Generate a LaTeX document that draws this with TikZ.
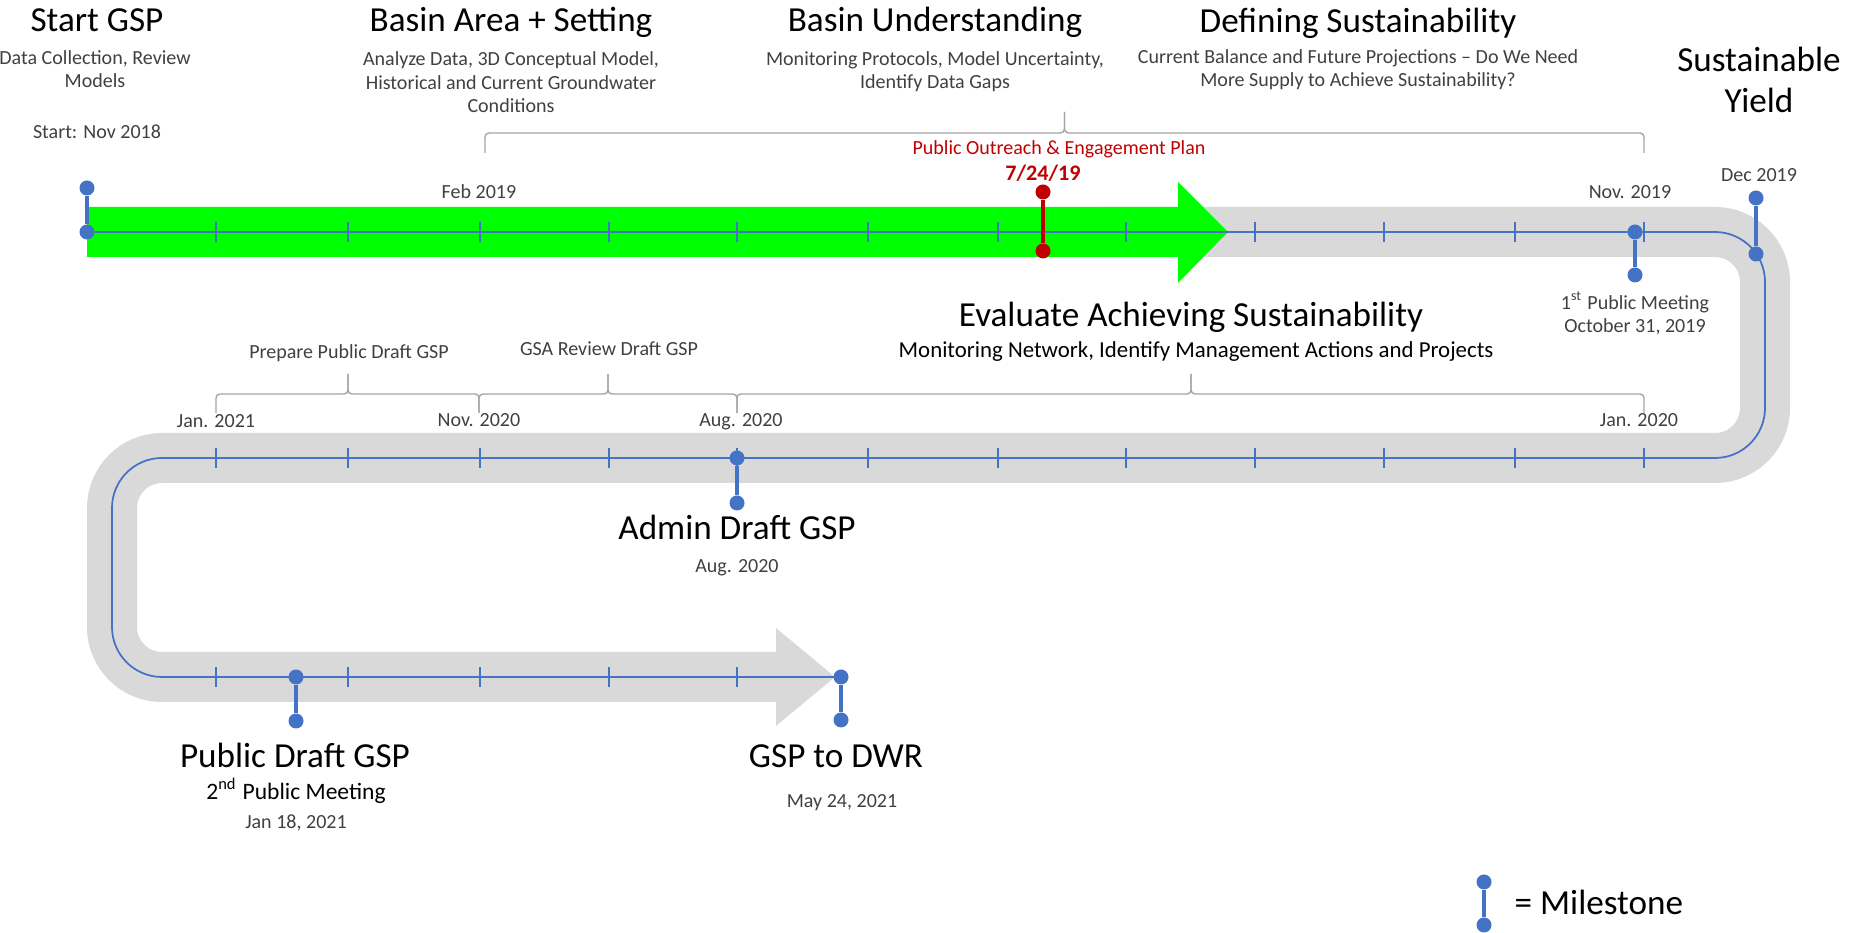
\documentclass[tikz,border=0pt]{standalone}
\usepackage{fontspec}
\setmainfont{Carlito}
\usepackage{xcolor}
\usepackage{tikz}
\definecolor{tlblue}{RGB}{68, 114, 196}
\definecolor{tlred}{RGB}{192, 0, 0}
\definecolor{tlgreen}{RGB}{0, 255, 0}
\definecolor{tlgray}{RGB}{217, 217, 217}
\definecolor{txtgray}{RGB}{64, 64, 64}
\definecolor{bracegray}{RGB}{165, 165, 165}

\begin{document}
\begin{tikzpicture}[
  band/.style={tlgray, line width=0.5cm, rounded corners=0.5cm},
  tline/.style={tlblue, line width=0.5pt, rounded corners=0.5cm},
  tickmark/.style={tlblue, line width=0.5pt},
  mdot/.style={circle, fill=tlblue, inner sep=0pt, minimum size=0.15cm},
  rdot/.style={circle, fill=tlred, inner sep=0pt, minimum size=0.15cm},
  mstem/.style={tlblue, line width=0.9pt},
  rstem/.style={tlred, line width=0.9pt},
  gbrace/.style={bracegray, line width=0.4pt, rounded corners=0.04cm},
  headtxt/.style={inner sep=0pt, anchor=base, align=center, font=\fontsize{10}{11.9}\selectfont},
  subtxt/.style={inner sep=0pt, anchor=base, align=center, text=txtgray, font=\fontsize{5.7}{6.7}\selectfont}
]
\useasboundingbox (0,0) rectangle (18.62,9.33);

% Gray road
\draw[band] (11.0,7.01) -- (17.65,7.01) -- (17.65,4.75) -- (1.12,4.75) -- (1.12,2.56) -- (7.76,2.56);
\fill[tlgray] (7.76,3.05) -- (8.35,2.56) -- (7.76,2.07) -- cycle;

% Green progress arrow
\fill[tlgreen] (0.87,6.76) -- (11.78,6.76) -- (11.78,6.50) -- (12.28,7.01) -- (11.78,7.51) -- (11.78,7.26) -- (0.87,7.26) -- cycle;

% Timeline
\coordinate (tstart) at (0.87,7.01);
\coordinate (tend) at (8.41,2.56);
\draw[tline] (tstart) -- (17.65,7.01) -- (17.65,4.75) -- (1.12,4.75) -- (1.12,2.56) -- (tend);
\foreach \x in {2.16,3.48,4.80,6.09,7.37,8.68,9.98,11.26,12.55,13.84,15.15,16.44} {
  \draw[tickmark] (\x,6.91) -- (\x,7.11);
  \draw[tickmark] (\x,4.65) -- (\x,4.85);
}
\foreach \x in {2.16,3.48,4.80,6.09,7.37}
  \draw[tickmark] (\x,2.46) -- (\x,2.66);

% Braces
\draw[gbrace] (4.85,7.80) -- (4.85,8.00) -- (10.645,8.00) -- (10.645,8.21);
\draw[gbrace] (16.44,7.80) -- (16.44,8.00) -- (10.645,8.00) -- (10.645,8.21);
\draw[gbrace] (2.16,5.20) -- (2.16,5.39) -- (3.48,5.39) -- (3.48,5.59);
\draw[gbrace] (4.79,5.20) -- (4.79,5.39) -- (3.48,5.39) -- (3.48,5.59);
\draw[gbrace] (4.79,5.20) -- (4.79,5.39) -- (6.08,5.39) -- (6.08,5.59);
\draw[gbrace] (7.37,5.20) -- (7.37,5.39) -- (6.08,5.39) -- (6.08,5.59);
\draw[gbrace] (7.37,5.20) -- (7.37,5.39) -- (11.91,5.39) -- (11.91,5.59);
\draw[gbrace] (16.44,5.20) -- (16.44,5.39) -- (11.91,5.39) -- (11.91,5.59);

% Milestones
\node[mdot] (startA) at (0.87,7.45) {};
\node[mdot] (startB) at (tstart) {};
\draw[mstem] (startA) -- (startB);
\node[rdot] (planA) at (10.43,7.41) {};
\node[rdot] (planB) at (10.43,6.82) {};
\draw[rstem] (planA) -- (planB);
\node[mdot] (novA) at (16.35,7.01) {};
\node[mdot] (novB) at (16.35,6.58) {};
\draw[mstem] (novA) -- (novB);
\node[mdot] (decA) at (17.56,7.35) {};
\node[mdot] (decB) at (17.56,6.79) {};
\draw[mstem] (decA) -- (decB);
\node[mdot] (augA) at (7.37,4.75) {};
\node[mdot] (augB) at (7.37,4.30) {};
\draw[mstem] (augA) -- (augB);
\node[mdot] (pubA) at (2.96,2.56) {};
\node[mdot] (pubB) at (2.96,2.12) {};
\draw[mstem] (pubA) -- (pubB);
\node[mdot] (dwrA) at (tend) {};
\node[mdot] (dwrB) at (8.41,2.13) {};
\draw[mstem] (dwrA) -- (dwrB);

% Top phases
\node[headtxt] (startT) at (0.97,9.01) {Start GSP};
\node[subtxt] (startS) at (0.95,8.45) {Data Collection, Review\\Models};
\node[subtxt] (startD) at (0.97,7.94) {Start: Nov 2018};
\node[headtxt] (areaT) at (5.11,9.01) {Basin Area + Setting};
\node[subtxt] (areaS) at (5.11,8.20) {Analyze Data, 3D Conceptual Model,\\Historical and Current Groundwater\\Conditions};
\node[headtxt] (undT) at (9.35,9.01) {Basin Understanding};
\node[subtxt] (undS) at (9.35,8.44) {Monitoring Protocols, Model Uncertainty,\\Identify Data Gaps};
\node[headtxt] (defT) at (13.58,9.00) {Defining Sustainability};
\node[subtxt] (defS) at (13.58,8.46) {Current Balance and Future Projections – Do We Need\\More Supply to Achieve Sustainability?};
\node[headtxt] (yieldT) at (17.59,8.20) {Sustainable\\Yield};

% Top dates
\node[subtxt] (febD) at (4.79,7.34) {Feb 2019};
\node[subtxt, text=tlred] (planT) at (10.59,7.78) {Public Outreach \& Engagement Plan};
\node[subtxt, text=tlred, font=\fontsize{6.3}{7}\selectfont\bfseries] (planD) at (10.43,7.52) {7/24/19};
\node[subtxt] (novD) at (16.30,7.34) {Nov. 2019};
\node[subtxt] (decD) at (17.59,7.51) {Dec 2019};
\node[subtxt] (novS) at (16.35,6.00) {1\textsuperscript{st} Public Meeting\\October 31, 2019};

% Middle phases
\node[headtxt] (evalT) at (11.91,6.06) {Evaluate Achieving Sustainability};
\node[subtxt, text=black, font=\fontsize{6.5}{7.6}\selectfont] (evalS) at (11.96,5.75) {Monitoring Network, Identify Management Actions and Projects};
\node[subtxt] (prepT) at (3.49,5.74) {Prepare Public Draft GSP};
\node[subtxt] (gsaT) at (6.09,5.77) {GSA Review Draft GSP};
\node[subtxt] (janD) at (2.16,5.05) {Jan. 2021};
\node[subtxt] (nov2D) at (4.79,5.06) {Nov. 2020};
\node[subtxt] (augD) at (7.41,5.06) {Aug. 2020};
\node[subtxt] (jan2D) at (16.39,5.06) {Jan. 2020};
\node[headtxt] (adminT) at (7.37,3.93) {Admin Draft GSP};
\node[subtxt] (adminD) at (7.37,3.60) {Aug. 2020};

% Bottom
\node[headtxt] (pubT) at (2.95,1.65) {Public Draft GSP};
\node[subtxt, text=black, font=\fontsize{6.7}{7.8}\selectfont] (pubS) at (2.96,1.33) {2\textsuperscript{nd} Public Meeting};
\node[subtxt] (pubD) at (2.96,1.04) {Jan 18, 2021};
\node[headtxt] (dwrT) at (8.36,1.65) {GSP to DWR};
\node[subtxt] (dwrD) at (8.42,1.25) {May 24, 2021};

% Legend
\node[mdot] (legA) at (14.84,0.51) {};
\node[mdot] (legB) at (14.84,0.08) {};
\draw[mstem] (legA) -- (legB);
\node[headtxt, anchor=base west] (legT) at (15.14,0.18) {= Milestone};
\end{tikzpicture}
\end{document}
